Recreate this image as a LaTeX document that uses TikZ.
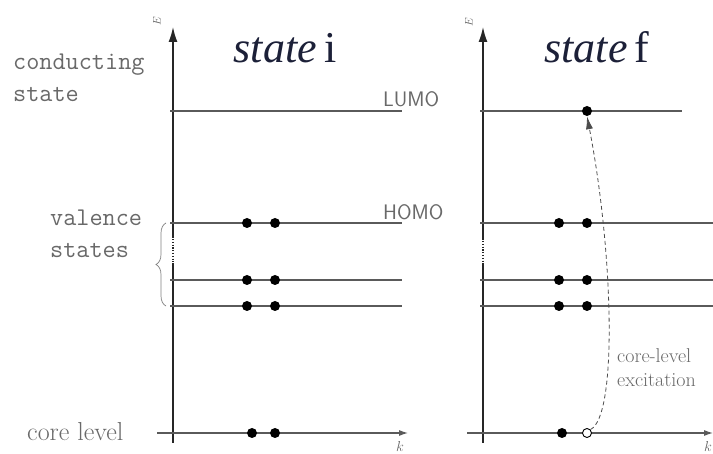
\documentclass[tikz,border=0pt]{standalone}
\usepackage{fontspec}
\newfontfamily\timesfont{Liberation Serif}
\usetikzlibrary{arrows.meta,decorations.pathreplacing}
\definecolor{txtgray}{RGB}{105,105,105}
\definecolor{linegray}{RGB}{90,90,90}
\definecolor{titlecol}{RGB}{28,32,56}
\tikzset{
  axis/.style={line width=1.5pt, draw=black!85},
  level/.style={line width=1.1pt, draw=linegray},
  vaxarrow/.style={-{Latex[length=15pt,width=9pt]}},
  haxarrow/.style={-{Latex[length=9pt,width=6pt]}},
  dot/.style={circle, fill=black, inner sep=0pt, minimum size=10pt},
  hole/.style={circle, draw=black, fill=white, line width=0.9pt, inner sep=0pt, minimum size=9pt},
  ttlabel/.style={font=\fontsize{25.5}{32}\selectfont\ttfamily, text=txtgray, align=left, inner sep=0pt},
  rmlabel/.style={text=txtgray, align=left, inner sep=0pt},
  orbital/.style={font=\fontsize{21}{24}\selectfont\sffamily, text=txtgray, inner sep=0pt},
  title/.style={font=\fontsize{44}{50}\selectfont\timesfont, text=titlecol, inner sep=0pt},
  axlabel/.style={text=txtgray, inner sep=0pt},
  excite/.style={dashed, dash pattern=on 4pt off 3pt, line width=0.8pt, draw=black!70, -{Latex[length=13pt,width=7pt]}},
  gap/.style={line width=3pt, draw=white},
  dots/.style={line width=1.5pt, draw=black!85, dash pattern=on 1.2pt off 1.6pt}
}
\begin{document}
\begin{tikzpicture}[x=1pt, y=-1pt]
\useasboundingbox (0,0) rectangle (713,454);
\fill[white] (0,0) rectangle (713,454);

% ---------- left panel ----------
\coordinate (Lbot) at (173,443);
\coordinate (Ltop) at (173,27);
\draw[axis, vaxarrow] (Lbot) -- (Ltop);
\draw[gap] (173,238) -- (173,263);
\draw[dots] (173,239) -- (173,262);
\foreach \y in {111,223,280,306} {
  \draw[level] (170,\y) -- (402,\y);
}
\coordinate (Lk0) at (157,433);
\coordinate (Lk1) at (408,433);
\draw[level, haxarrow] (Lk0) -- (Lk1);
\foreach \y/\n in {223/a,280/b,306/c} {
  \node[dot] (L\n1) at (247,\y) {};
  \node[dot] (L\n2) at (275,\y) {};
}
\node[dot] (Lcore1) at (252,433) {};
\node[dot] (Lcore2) at (275,433) {};

\node[axlabel, rotate=90, font=\fontsize{11}{11}\selectfont] (LE) at (157,21) {$E$};
\node[axlabel, font=\fontsize{15}{15}\selectfont, anchor=base] (Lk) at (400,452) {$k$};

\node[title, anchor=base] (Ltitle) at (285,63) {\textit{state}\,i};
\node[ttlabel, anchor=base west] (cond) at (13,102) {conducting\\state};
\node[ttlabel, anchor=base west] (val) at (50,258) {valence\\states};
\node[rmlabel, font=\fontsize{26}{26}\selectfont, anchor=base west] (core) at (27,441) {core level};
\node[orbital, anchor=base west] (lumo) at (383,107) {LUMO};
\node[orbital, anchor=base west] (homo) at (383,220) {HOMO};
\draw[decorate, decoration={brace, amplitude=10pt}, line width=0.7pt, draw=black!50] (166,306) -- (166,223);

% ---------- right panel ----------
\coordinate (Rbot) at (483,443);
\coordinate (Rtop) at (483,27);
\draw[axis, vaxarrow] (Rbot) -- (Rtop);
\draw[gap] (483,240) -- (483,263);
\draw[dots] (483,241) -- (483,262);
\draw[level] (480,111) -- (682,111);
\foreach \y in {223,280,306} {
  \draw[level] (480,\y) -- (713,\y);
}
\coordinate (Rk0) at (467,433);
\coordinate (Rk1) at (713,433);
\draw[level, haxarrow] (Rk0) -- (Rk1);
\foreach \y/\n in {223/a,280/b,306/c} {
  \node[dot] (R\n1) at (559,\y) {};
  \node[dot] (R\n2) at (587,\y) {};
}
\node[dot] (Rlumo) at (587,111) {};
\node[dot] (Rcore) at (562,433) {};
\node[hole] (Rhole) at (587,433) {};

\node[axlabel, rotate=90, font=\fontsize{11}{11}\selectfont] (RE) at (469,22) {$E$};
\node[axlabel, font=\fontsize{15}{15}\selectfont, anchor=base] (Rk) at (708,452) {$k$};

\node[title, anchor=base] (Rtitle) at (597,63) {\textit{state}\,f};
\node[rmlabel, font=\fontsize{20}{24}\selectfont, anchor=base west] (exc) at (617,387) {core-level\\excitation};

\draw[excite] (Rhole.north east) .. controls (618,416) and (613,250) .. (Rlumo.south);
\end{tikzpicture}
\end{document}
